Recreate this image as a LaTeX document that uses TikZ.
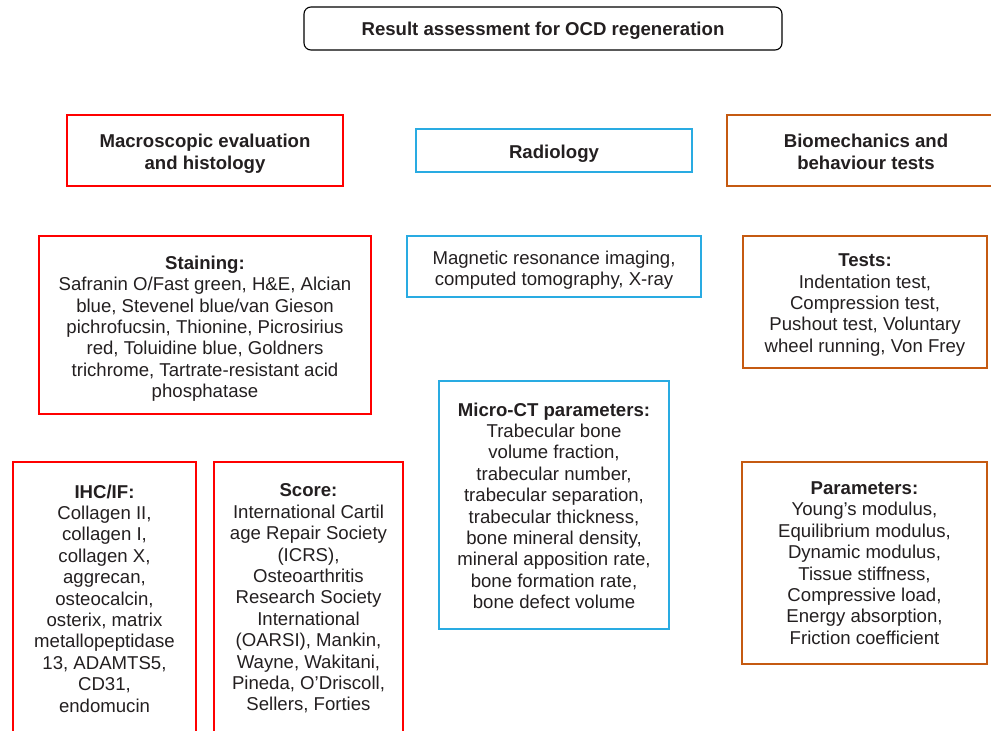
\documentclass[tikz,border=0pt]{standalone}
\usepackage{fontspec}
\setmainfont{Liberation Sans}
\usepackage{xcolor}
\definecolor{histred}{HTML}{FF0000}
\definecolor{radioblue}{HTML}{29ABE2}
\definecolor{mechorange}{HTML}{C55A11}
\definecolor{txtgray}{HTML}{231F20}
\newcommand{\sinkby}[1]{\rule{0pt}{#1}}
\tikzset{box/.style={draw, line width=1.4pt, align=center, text=txtgray,
   font=\fontsize{18.6}{21.4}\selectfont, inner sep=2pt},
 histbox/.style={box, draw=histred},
 radiobox/.style={box, draw=radioblue},
 mechbox/.style={box, draw=mechorange},
 titlebox/.style={box, draw=black, line width=1.1pt, rounded corners=7pt},
 }

\begin{document}
\begin{tikzpicture}[x=1pt, y=-1pt]
        \useasboundingbox (0,0) rectangle (991,731);
        % top
        \node[titlebox, minimum width=478, minimum height=43] (title) at (543, 28.5)
            {\sinkby{18pt}\textbf{Result assessment for OCD regeneration}};
        % column heads
        \node[histbox, minimum width=276, minimum height=71] (macro) at (205, 150.5)
            {\sinkby{20pt}\textbf{Macroscopic evaluation}\\ \textbf{and histology}};
        \node[radiobox, minimum width=276, minimum height=43] (radio) at (554, 150.5)
            {\sinkby{20pt}\textbf{Radiology}};
        \node[mechbox, minimum width=278, minimum height=71] (biomech) at (866, 150.5)
            {\sinkby{16pt}\textbf{Biomechanics and}\\ \textbf{behaviour tests}};
        % histology
        \node[histbox, minimum width=332, minimum height=178] (stain) at (205, 325)
            {\sinkby{21pt}\textbf{Staining:}\\ Safranin O/Fast green, H\&E, Alcian\\
             blue, Stevenel blue/van Gieson\\ pichrofucsin, Thionine, Picrosirius\\
             red, Toluidine blue, Goldners\\ trichrome, Tartrate-resistant acid\\
             phosphatase};
        \node[histbox, minimum width=183, minimum height=273] (ihc) at (104.5, 598.5)
            {\textbf{IHC/IF:}\\ Collagen II,\\ collagen I,\\ collagen X,\\ aggrecan,\\
             osteocalcin,\\ osterix, matrix\\ metallopeptidase\\ 13, ADAMTS5,\\
             CD31,\\ endomucin};
        \node[histbox, minimum width=189, minimum height=273] (score) at (308.5, 598.5)
            {\textbf{Score:}\\ International Cartil\\ age Repair Society\\ (ICRS),\\
             Osteoarthritis\\ Research Society\\ International\\ (OARSI), Mankin,\\
             Wayne, Wakitani,\\ Pineda, O’Driscoll,\\ Sellers, Forties};
        % radiology
        \node[radiobox, minimum width=294, minimum height=61] (mri) at (554, 266.5)
            {\sinkby{21pt}Magnetic resonance imaging,\\ computed tomography, X-ray};
        \node[radiobox, minimum width=230, minimum height=248] (microct) at (554, 505)
            {\sinkby{15pt}\textbf{Micro-CT parameters:}\\ Trabecular bone\\ volume fraction,\\
             trabecular number,\\ trabecular separation,\\ trabecular thickness,\\
             bone mineral density,\\ mineral apposition rate,\\ bone formation rate,\\
             bone defect volume};
        % biomechanics
        \node[mechbox, minimum width=244, minimum height=132] (tests) at (865, 302)
            {\sinkby{19pt}\textbf{Tests:}\\ Indentation test,\\ Compression test,\\
             Pushout test, Voluntary\\ wheel running, Von Frey};
        \node[mechbox, minimum width=245, minimum height=202] (params) at (864.5, 563)
            {\textbf{Parameters:}\\ Young’s modulus,\\ Equilibrium modulus,\\
             Dynamic modulus,\\ Tissue stiffness,\\ Compressive load,\\
             Energy absorption,\\ Friction coefficient};
    \end{tikzpicture}
\end{document}
